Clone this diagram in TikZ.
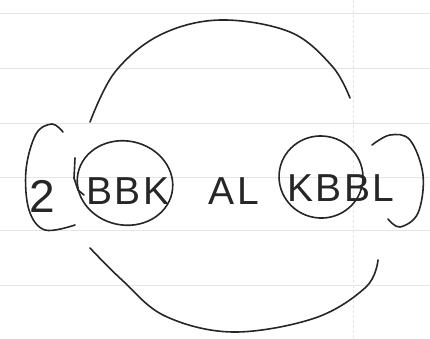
\documentclass[tikz,border=0pt]{standalone}
\usepackage{fontspec}
\setmainfont{Liberation Sans}[LetterSpace=6]
\usetikzlibrary{shapes.geometric}
\begin{document}
\begin{tikzpicture}[x=1pt,y=-1pt,
  ink/.style={draw=black!85,line width=1.6pt,line cap=round,line join=round},
  rule/.style={draw=black!10,line width=0.8pt},
  lbl/.style={inner sep=0pt,text=black!85,font=\fontsize{39}{39}\selectfont},
  ring/.style={ink,shape=ellipse,inner sep=0pt}]
\useasboundingbox (0,0) rectangle (430,338);
\fill[white] (0,0) rectangle (430,338);
% ruled paper
\foreach \yy in {13,68,123,177,230,285} \draw[rule] (0,\yy) -- (430,\yy);
\draw[rule,dash pattern=on 3pt off 2pt] (353,0) -- (353,338);
% labels
\node[lbl,font=\fontsize{46}{46}\selectfont] (two) at (42,196) {2};
\node[lbl] (bbk) at (128,191) {BBK};
\node[lbl] (al) at (234,191) {AL};
\node[lbl] (kbbl) at (341,188) {KBBL};
% rings
\node[ring,minimum width=96pt,minimum height=84pt,rotate=-12] (lring) at (125,183) {};
\draw[ink] (75,158) -- (74,178) -- (78,190) -- (84,195);
\node[ring,minimum width=84pt,minimum height=82pt,rotate=-10] (rring) at (321,177) {};
% brackets
\draw[ink] plot[smooth,tension=0.6] coordinates {(63,132) (52,124) (36,134) (26,170) (29,210) (45,230) (75,225)};
\draw[ink] plot[smooth,tension=0.6] coordinates {(372,145) (390,135) (410,140) (423,175) (418,213) (400,227) (388,219)};
% arcs
\coordinate (ta) at (90,122);
\coordinate (tb) at (350,98);
\coordinate (ba) at (90,248);
\coordinate (bb) at (378,260);
\draw[ink] plot[smooth,tension=0.6] coordinates {(ta) (115,72) (160,35) (220,20) (290,32) (332,66) (tb)};
\draw[ink] plot[smooth,tension=0.6] coordinates {(ba) (122,280) (165,316) (233,332) (315,318) (366,287) (bb)};
\end{tikzpicture}
\end{document}
